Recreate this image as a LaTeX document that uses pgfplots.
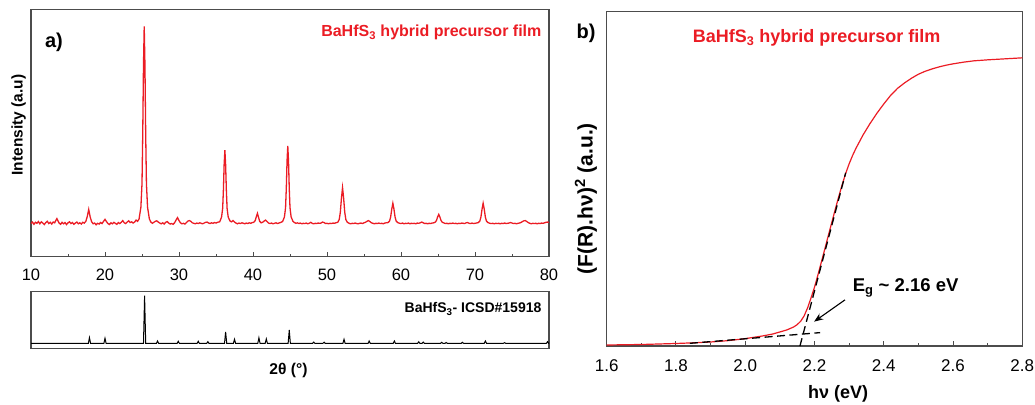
\documentclass[border=0pt]{standalone}
\usepackage{fontspec}
\setmainfont{Liberation Sans}
\usepackage{pgfplots}
\pgfplotsset{compat=1.18}
\usetikzlibrary{arrows.meta}

\definecolor{filmred}{RGB}{235,28,36}
\newcommand{\fs}[1]{\fontsize{#1}{#1}\selectfont}

\pgfplotsset{
  panel/.style={
    scale only axis, anchor=south west,
    axis line style={black!70, line width=1.1pt},
    tick style={black!70, line width=1pt},
    tick align=inside, major tick length=5pt, minor tick length=3pt,
    ytick=\empty, xtick pos=left,
    /pgf/number format/assume math mode=true,
  },
}

\begin{document}
\begin{tikzpicture}
\path[use as bounding box] (0,0) rectangle (1035pt,404pt);

% a) XRD of the film
\begin{axis}[panel, at={(31pt,147.3pt)}, width=518pt, height=247.4pt,
  xmin=10, xmax=80, ymin=0, ymax=100,
  xtick={10,20,...,80}, minor x tick num=1,
  xticklabel style={font=\fs{16.5}, anchor=base, yshift=-24pt},
  ylabel={\bfseries Intensity (a.u)},
  ylabel style={font=\fs{15.5}, at={(axis description cs:-0.024,0.532)}, anchor=center},
]
\addplot[filmred, line width=1.3pt] coordinates {
(10.0,13.4) (10.2,14.0) (10.4,13.1) (10.6,13.9) (10.8,13.5) (11.0,14.2) (11.2,13.3) (11.4,14.1)
(11.6,13.6) (11.8,13.0) (12.0,13.8) (12.2,14.3) (12.4,13.4) (12.6,13.9) (12.8,13.2) (13.0,14.0)
(13.2,13.7) (13.4,14.9) (13.5,15.4) (13.6,14.8) (13.8,13.6) (14.0,13.1) (14.2,13.9) (14.4,13.3)
(14.6,13.8) (14.8,13.0) (15.0,13.7) (15.2,14.1) (15.4,13.4) (15.6,13.8) (15.8,13.1) (16.0,13.6)
(16.2,14.0) (16.4,13.3) (16.6,13.7) (16.8,13.2) (17.0,13.9) (17.2,13.6) (17.4,14.2) (17.6,16.2)
(17.8,19.1) (18.0,16.0) (18.2,14.1) (18.4,13.3) (18.6,13.6) (18.8,12.9) (19.0,13.5) (19.2,13.2)
(19.4,13.8) (19.6,13.4) (19.8,14.3) (20.0,15.1) (20.2,14.2) (20.4,13.4) (20.6,13.0) (20.8,13.7)
(21.0,13.3) (21.2,13.9) (21.4,13.5) (21.6,13.1) (21.8,13.8) (22.0,13.4) (22.2,13.9) (22.4,14.6)
(22.6,13.7) (22.8,13.4) (23.0,14.0) (23.2,14.5) (23.4,13.8) (23.6,14.1) (23.8,13.6) (24.0,14.0)
(24.2,14.8) (24.4,14.3) (24.6,15.2) (24.85,20.0) (25.0,29.5) (25.1,49.4) (25.2,77.2) (25.3,93.1)
(25.4,77.2) (25.5,49.4) (25.6,29.5) (25.75,20.0) (26.0,15.2) (26.2,14.0) (26.4,13.5) (26.6,13.9)
(26.8,14.3) (27.0,14.5) (27.2,14.0) (27.4,13.6) (27.6,13.3) (27.8,13.7) (28.0,13.2) (28.2,13.9)
(28.4,14.2) (28.6,13.6) (28.8,13.2) (29.0,13.4) (29.2,13.1) (29.4,13.7) (29.6,14.8) (29.8,15.8)
(30.0,14.6) (30.2,13.7) (30.4,13.3) (30.6,13.5) (30.8,13.2) (31.0,13.8) (31.2,14.4) (31.4,14.6)
(31.6,14.3) (31.8,13.7) (32.0,13.5) (32.2,13.3) (32.4,13.6) (32.6,13.4) (32.8,13.7) (33.0,13.5)
(33.2,13.3) (33.4,13.6) (33.6,13.9) (33.8,14.0) (34.0,13.6) (34.2,13.4) (34.4,13.7) (34.6,13.5)
(34.8,13.8) (35.0,13.6) (35.2,13.9) (35.5,14.1) (35.75,16.0) (35.9,19.5) (36.0,26.9) (36.1,37.2)
(36.2,43.1) (36.3,37.2) (36.4,26.9) (36.5,19.5) (36.65,16.0) (36.9,14.4) (37.1,14.1) (37.3,14.6)
(37.5,14.0) (37.7,13.6) (37.9,13.3) (38.1,13.6) (38.3,13.4) (38.5,13.7) (38.7,13.5) (38.9,13.3)
(39.1,13.6) (39.3,13.4) (39.5,13.7) (39.7,13.5) (39.9,13.8) (40.1,13.9) (40.3,14.6) (40.45,16.2)
(40.6,17.5) (40.75,15.9) (40.9,14.3) (41.1,13.7) (41.3,13.9) (41.5,14.4) (41.7,14.8) (41.9,14.2)
(42.1,13.6) (42.3,13.4) (42.5,13.6) (42.7,13.3) (42.9,13.5) (43.1,13.7) (43.3,13.4) (43.5,13.6)
(43.7,13.8) (44.0,14.2) (44.25,16.1) (44.4,19.8) (44.5,27.6) (44.6,38.6) (44.7,44.8) (44.8,38.6)
(44.9,27.6) (45.0,19.8) (45.15,16.1) (45.4,14.3) (45.6,13.8) (45.8,13.5) (46.0,13.7) (46.2,13.4)
(46.4,13.6) (46.6,13.3) (46.8,13.5) (47.0,13.4) (47.2,13.6) (47.4,13.3) (47.6,13.5) (47.8,13.9)
(48.0,13.5) (48.2,13.3) (48.4,13.5) (48.6,13.4) (48.8,13.6) (49.0,13.5) (49.2,13.6) (49.4,14.0)
(49.6,13.8) (49.8,13.4) (50.0,13.5) (50.2,13.3) (50.4,13.5) (50.6,13.4) (50.8,13.6) (51.0,13.5)
(51.2,13.7) (51.45,13.9) (51.65,15.0) (51.8,17.9) (51.95,23.6) (52.1,27.9) (52.25,23.6) (52.4,17.9)
(52.55,15.0) (52.75,13.9) (53.0,13.5) (53.2,13.3) (53.4,13.5) (53.6,13.4) (53.8,13.6) (54.0,13.4)
(54.2,13.3) (54.4,13.5) (54.6,13.6) (54.8,13.4) (55.0,13.7) (55.2,13.9) (55.4,14.3) (55.6,14.6)
(55.8,14.2) (56.0,13.7) (56.2,13.5) (56.4,13.3) (56.6,13.5) (56.8,13.4) (57.0,13.6) (57.2,13.4)
(57.4,13.5) (57.6,13.3) (57.8,13.6) (58.0,13.7) (58.25,13.8) (58.45,14.4) (58.6,16.0) (58.75,19.2)
(58.9,21.6) (59.05,19.2) (59.2,16.0) (59.35,14.4) (59.55,13.8) (59.8,13.5) (60.0,13.4) (60.2,13.6)
(60.4,13.3) (60.6,13.5) (60.8,13.4) (61.0,13.6) (61.2,13.3) (61.4,13.5) (61.6,13.4) (61.8,13.5)
(62.0,13.3) (62.2,13.6) (62.4,13.5) (62.6,13.7) (62.8,14.0) (63.0,13.7) (63.2,13.4) (63.4,13.5)
(63.6,13.3) (63.8,13.5) (64.0,13.4) (64.2,13.6) (64.45,13.7) (64.65,14.0) (64.8,14.7) (64.95,16.1)
(65.1,17.1) (65.25,16.1) (65.4,14.7) (65.55,14.0) (65.75,13.7) (66.0,13.4) (66.2,13.5) (66.4,13.3)
(66.6,13.5) (66.8,13.4) (67.0,13.6) (67.2,13.4) (67.4,13.5) (67.6,13.3) (67.8,13.5) (68.0,13.4)
(68.2,13.6) (68.4,13.5) (68.6,13.4) (68.8,13.7) (69.0,13.8) (69.2,13.5) (69.4,13.4) (69.6,13.6)
(69.8,13.4) (70.0,13.5) (70.2,13.6) (70.45,13.8) (70.65,14.4) (70.8,16.0) (70.95,19.2) (71.1,21.6)
(71.25,19.2) (71.4,16.0) (71.55,14.4) (71.75,13.8) (72.0,13.5) (72.2,13.4) (72.4,13.5) (72.6,13.3)
(72.8,13.5) (73.0,13.4) (73.2,13.5) (73.4,13.3) (73.6,13.5) (73.8,13.4) (74.0,13.6) (74.2,13.4)
(74.4,13.5) (74.6,13.6) (74.8,13.8) (75.0,13.6) (75.2,13.4) (75.4,13.5) (75.6,13.3) (75.8,13.5)
(76.0,13.6) (76.2,13.8) (76.4,14.2) (76.6,14.5) (76.8,14.6) (77.0,14.2) (77.2,13.8) (77.4,13.5)
(77.6,13.3) (77.8,13.5) (78.0,13.4) (78.2,13.5) (78.4,13.3) (78.6,13.5) (78.8,13.4) (79.0,13.6)
(79.2,13.5) (79.4,13.7) (79.6,13.9) (79.8,14.0) (80.0,13.8)
};
\node[font=\fs{20}\bfseries] at (axis cs:13.1,86.5) {a)};
\node[font=\fs{16}\bfseries, text=filmred, anchor=east, inner sep=0pt] at (axis cs:79.0,90.7) {BaHfS\textsubscript{3} hybrid precursor film};
\end{axis}

% a) reference pattern
\begin{axis}[panel, at={(31pt,55.7pt)}, width=518pt, height=56.6pt,
  xmin=10, xmax=80, ymin=0, ymax=100, xtick=\empty,
  xlabel={\bfseries 2θ (°)},
  xlabel style={font=\fs{15.6}, at={(axis description cs:0.497,-0.383)}, anchor=center},
]
\addplot[black, line width=1pt] coordinates {
(10,8.8) (17.75,8.8) (17.9,18.7) (18.05,8.8) (19.85,8.8) (20.0,17.7) (20.15,8.8)
(25.2,8.8) (25.35,92.9) (25.5,8.8) (26.95,8.8) (27.1,12.9) (27.25,8.8)
(29.75,8.8) (29.9,12.4) (30.05,8.8) (32.45,8.8) (32.6,12.4) (32.75,8.8)
(33.75,8.8) (33.9,11.7) (34.05,8.8) (36.15,8.8) (36.3,29.0) (36.45,8.8)
(37.35,8.8) (37.5,15.9) (37.65,8.8) (40.65,8.8) (40.8,18.7) (40.95,8.8)
(41.65,8.8) (41.8,16.5) (41.95,8.8) (44.75,8.8) (44.9,32.5) (45.05,8.8)
(48.05,8.8) (48.2,11.0) (48.35,8.8) (49.45,8.8) (49.6,10.8) (49.75,8.8)
(52.15,8.8) (52.3,15.9) (52.45,8.8) (55.55,8.8) (55.7,12.9) (55.85,8.8)
(58.95,8.8) (59.1,12.9) (59.25,8.8) (62.25,8.8) (62.4,11.5) (62.55,8.8)
(62.85,8.8) (63.0,11.0) (63.15,8.8) (65.35,8.8) (65.5,10.6) (65.65,8.8)
(65.95,8.8) (66.1,10.3) (66.25,8.8) (68.15,8.8) (68.3,10.6) (68.45,8.8)
(71.25,8.8) (71.4,12.9) (71.55,8.8) (73.85,8.8) (74.0,10.0) (74.15,8.8)
(79.65,8.8) (79.8,11.7) (79.95,8.8) (80,8.8)
};
\node[font=\fs{14}\bfseries, anchor=east, inner sep=0pt] at (axis cs:79.0,69.4) {BaHfS\textsubscript{3}- ICSD\#15918};
\end{axis}

% b) Tauc plot
\begin{axis}[panel, at={(606.7pt,58pt)}, width=415.6pt, height=334.3pt,
  xmin=1.6, xmax=2.8, ymin=0, ymax=100,
  xtick={1.6,1.8,2.0,2.2,2.4,2.6,2.8}, minor x tick num=1,
  xticklabel style={font=\fs{17}, anchor=base, yshift=-25.7pt,
    /pgf/number format/fixed, /pgf/number format/fixed zerofill, /pgf/number format/precision=1},
  xlabel={\bfseries hν (eV)},
  xlabel style={font=\fs{18}, at={(axis description cs:0.5566,-0.1585)}, anchor=base},
  ylabel={\bfseries (F(R).hν)\textsuperscript{2} (a.u.)},
  ylabel style={font=\fs{21}, at={(axis description cs:-0.0498,0.441)}, anchor=center},
  clip mode=individual,
]
\addplot[filmred, line width=1.2pt] coordinates {
(1.60,0.3) (1.70,0.45) (1.80,0.75) (1.85,0.95) (1.90,1.2) (1.95,1.6) (2.00,2.2) (2.05,3.0)
(2.08,3.6) (2.10,4.2) (2.12,4.8) (2.14,5.7) (2.15,6.4) (2.16,7.4) (2.17,9.0) (2.18,11.4)
(2.19,14.4) (2.20,17.6) (2.21,21.3) (2.22,25.2) (2.23,29.1) (2.24,33.1) (2.25,37.0) (2.26,40.9)
(2.27,44.7) (2.28,48.3) (2.29,51.6) (2.30,54.5) (2.31,57.0) (2.32,59.2) (2.34,63.1) (2.36,66.5)
(2.38,69.6) (2.40,72.4) (2.42,75.0) (2.44,77.1) (2.46,78.7) (2.48,80.1) (2.50,81.3) (2.52,82.2)
(2.54,82.9) (2.56,83.5) (2.58,84.0) (2.60,84.4) (2.63,84.9) (2.66,85.3) (2.70,85.6) (2.75,85.9)
(2.80,86.2)
};
\addplot[black, line width=1.3pt, dash pattern=on 8pt off 4.5pt] coordinates {(2.158,0) (2.29,51.8)};
\addplot[black, line width=1.3pt, dash pattern=on 8pt off 4.5pt] coordinates {(1.84,0.8) (2.216,4.0)};
\draw[-{Stealth[length=9pt,width=7pt]}, line width=1.1pt] (axis cs:2.288,13.8) -- (axis cs:2.199,7.3);
\node[font=\fs{18.5}\bfseries] at (axis cs:2.463,17.35) {E\textsubscript{g} \textasciitilde{} 2.16 eV};
\node[font=\fs{18}\bfseries, text=filmred] at (axis cs:2.206,92.1) {BaHfS\textsubscript{3} hybrid precursor film};
\node[font=\fs{20}\bfseries] at (rel axis cs:-0.0498,0.936) {b)};
\end{axis}
\end{tikzpicture}
\end{document}
